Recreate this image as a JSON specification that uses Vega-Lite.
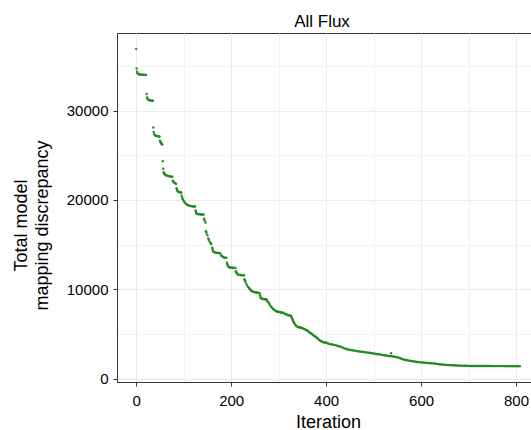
{
"$schema": "https://vega.github.io/schema/vega-lite/v6.json",
"width": 422, "height": 349,
"autosize": {"type": "none"},
"padding": {"left": 117, "top": 33, "right": 0, "bottom": 48},
"background": "white",
"title": {"text": "All Flux", "fontSize": 17, "font": "Liberation Sans", "fontWeight": "normal", "color": "black", "anchor": "middle", "frame": "group", "baseline": "bottom", "offset": 4, "dx": -6, "dy": 19},
"config": {
  "view": {"stroke": "#333333", "strokeWidth": 1},
  "axis": {"labelFont": "Liberation Sans", "titleFont": "Liberation Sans", "labelColor": "black", "titleColor": "black", "domainColor": "#333333", "tickColor": "#333333", "labelFontSize": 15, "titleFontSize": 18, "titleFontWeight": "normal", "tickSize": 4, "labelOverlap": false, "labelFlush": false}
},
"data": {"values": [
{"i":0,"v":36900},{"i":1,"v":34700},{"i":2,"v":34350},{"i":3,"v":34180},{"i":4,"v":34100},{"i":6,"v":34050},{"i":8,"v":34030},{"i":10,"v":34020},{"i":12,"v":34010},{"i":14,"v":34000},{"i":16,"v":34000},{"i":18,"v":33990},{"i":20,"v":33990},{"i":21,"v":33990},
{"i":22,"v":31850},{"i":23,"v":31450},{"i":24,"v":31300},{"i":26,"v":31200},{"i":28,"v":31160},{"i":30,"v":31130},{"i":32,"v":31110},{"i":34,"v":31100},{"i":35,"v":31100},
{"i":36,"v":28100},{"i":37,"v":27600},{"i":38,"v":27350},{"i":40,"v":27220},{"i":42,"v":27170},{"i":44,"v":27140},{"i":46,"v":27120},{"i":48,"v":27100},{"i":49,"v":27100},
{"i":50,"v":26620},{"i":51,"v":26500},{"i":52,"v":26400},{"i":53,"v":26300},{"i":54,"v":26250},{"i":55,"v":26200},
{"i":56,"v":24340},{"i":57,"v":23480},{"i":58,"v":23100},{"i":59,"v":22950},{"i":60,"v":22880},{"i":62,"v":22800},{"i":64,"v":22740},{"i":66,"v":22700},{"i":68,"v":22670},{"i":70,"v":22640},{"i":72,"v":22620},{"i":74,"v":22610},{"i":76,"v":22600},
{"i":77,"v":22150},{"i":78,"v":22060},{"i":80,"v":21950},{"i":82,"v":21860},{"i":84,"v":21800},
{"i":85,"v":21300},{"i":86,"v":21150},{"i":87,"v":21000},{"i":88,"v":20950},{"i":90,"v":20900},{"i":92,"v":20870},{"i":94,"v":20840},{"i":95,"v":20830},
{"i":96,"v":20460},{"i":97,"v":20250},{"i":98,"v":20090},{"i":100,"v":19900},{"i":102,"v":19750},{"i":104,"v":19620},{"i":106,"v":19520},{"i":108,"v":19450},{"i":110,"v":19400},{"i":112,"v":19360},{"i":114,"v":19330},{"i":116,"v":19310},{"i":118,"v":19290},{"i":120,"v":19280},{"i":122,"v":19270},{"i":124,"v":19260},
{"i":125,"v":18810},{"i":126,"v":18650},{"i":127,"v":18520},{"i":128,"v":18440},{"i":130,"v":18420},{"i":132,"v":18400},{"i":134,"v":18390},{"i":136,"v":18380},{"i":138,"v":18380},{"i":140,"v":18370},{"i":142,"v":18370},
{"i":143,"v":17900},{"i":144,"v":17700},{"i":146,"v":17480},{"i":147,"v":16500},{"i":148,"v":16300},{"i":150,"v":16060},{"i":152,"v":15700},{"i":153,"v":15530},{"i":155,"v":15300},{"i":157,"v":15150},{"i":158,"v":15080},{"i":160,"v":14650},{"i":161,"v":14490},{"i":162,"v":14300},{"i":163,"v":14190},{"i":165,"v":14150},{"i":167,"v":14120},{"i":169,"v":14100},{"i":171,"v":14080},{"i":173,"v":14060},{"i":175,"v":14050},{"i":177,"v":14040},
{"i":179,"v":13800},{"i":180,"v":13740},{"i":182,"v":13650},{"i":184,"v":13580},{"i":186,"v":13550},{"i":188,"v":13530},{"i":190,"v":13520},
{"i":191,"v":12990},{"i":192,"v":12800},{"i":193,"v":12650},{"i":194,"v":12540},{"i":196,"v":12480},{"i":198,"v":12450},{"i":200,"v":12430},{"i":202,"v":12420},{"i":204,"v":12410},{"i":206,"v":12400},{"i":208,"v":12400},{"i":209,"v":12400},
{"i":210,"v":12030},{"i":211,"v":11900},{"i":212,"v":11800},{"i":214,"v":11650},{"i":216,"v":11620},{"i":218,"v":11610},{"i":220,"v":11600},{"i":222,"v":11590},{"i":224,"v":11590},{"i":226,"v":11580},{"i":227,"v":11580},
{"i":228,"v":11130},{"i":229,"v":11000},{"i":230,"v":10850},{"i":232,"v":10600},{"i":234,"v":10400},{"i":236,"v":10250},{"i":238,"v":10120},{"i":239,"v":10080},{"i":240,"v":10000},{"i":242,"v":9850},{"i":244,"v":9790},{"i":246,"v":9750},{"i":248,"v":9710},{"i":250,"v":9680},{"i":252,"v":9660},{"i":254,"v":9640},{"i":256,"v":9630},{"i":258,"v":9600},{"i":260,"v":9560},
{"i":261,"v":9300},{"i":262,"v":9120},{"i":263,"v":9000},{"i":265,"v":8960},{"i":267,"v":8930},{"i":269,"v":8910},{"i":271,"v":8900},{"i":273,"v":8890},{"i":274,"v":8890},
{"i":275,"v":8750},{"i":277,"v":8620},{"i":279,"v":8500},{"i":281,"v":8330},{"i":283,"v":8150},{"i":285,"v":8000},{"i":287,"v":7900},{"i":289,"v":7780},{"i":291,"v":7690},{"i":293,"v":7620},{"i":295,"v":7560},{"i":297,"v":7520},{"i":299,"v":7490},{"i":301,"v":7460},{"i":303,"v":7440},{"i":305,"v":7420},{"i":307,"v":7400},{"i":309,"v":7390},{"i":311,"v":7320},{"i":313,"v":7270},{"i":315,"v":7230},{"i":317,"v":7190},{"i":319,"v":7140},{"i":321,"v":7100},{"i":323,"v":7070},{"i":325,"v":7040},{"i":326,"v":7020},
{"i":327,"v":6900},{"i":328,"v":6800},{"i":329,"v":6680},{"i":330,"v":6570},{"i":331,"v":6420},{"i":332,"v":6300},{"i":333,"v":6200},{"i":335,"v":6050},{"i":337,"v":5900},{"i":339,"v":5830},{"i":341,"v":5790},{"i":343,"v":5760},{"i":345,"v":5730},{"i":347,"v":5710},{"i":349,"v":5670},{"i":351,"v":5620},{"i":353,"v":5580},{"i":355,"v":5530},{"i":357,"v":5480},{"i":359,"v":5430},{"i":361,"v":5380},{"i":363,"v":5290},{"i":365,"v":5200},{"i":367,"v":5120},{"i":369,"v":5050},{"i":371,"v":4950},{"i":373,"v":4870},{"i":375,"v":4800},{"i":377,"v":4730},{"i":379,"v":4650},{"i":381,"v":4560},{"i":383,"v":4470},{"i":385,"v":4350},{"i":387,"v":4280},{"i":389,"v":4220},{"i":391,"v":4170},{"i":393,"v":4120},{"i":395,"v":4090},{"i":397,"v":4060},{"i":399,"v":4040},{"i":401,"v":4020},
{"i":404,"v":3950},{"i":407,"v":3890},{"i":410,"v":3860},{"i":413,"v":3820},{"i":416,"v":3790},{"i":419,"v":3760},{"i":422,"v":3710},{"i":425,"v":3660},{"i":428,"v":3620},{"i":431,"v":3580},{"i":434,"v":3500},{"i":437,"v":3430},{"i":440,"v":3370},{"i":443,"v":3320},{"i":446,"v":3280},{"i":449,"v":3250},{"i":452,"v":3210},{"i":455,"v":3180},{"i":458,"v":3150},{"i":461,"v":3120},{"i":464,"v":3090},{"i":467,"v":3070},{"i":470,"v":3050},{"i":473,"v":3030},{"i":476,"v":3010},{"i":479,"v":2990},{"i":482,"v":2970},{"i":485,"v":2950},{"i":488,"v":2920},{"i":491,"v":2900},{"i":494,"v":2870},{"i":497,"v":2850},{"i":500,"v":2820},{"i":503,"v":2800},{"i":506,"v":2770},{"i":509,"v":2750},{"i":512,"v":2730},{"i":515,"v":2700},{"i":518,"v":2670},{"i":521,"v":2640},{"i":524,"v":2620},{"i":527,"v":2590},{"i":530,"v":2570},{"i":533,"v":2540},{"i":535,"v":2530},{"i":537,"v":2840},{"i":538,"v":2520},{"i":541,"v":2490},{"i":544,"v":2460},{"i":547,"v":2440},{"i":550,"v":2410},{"i":553,"v":2360},{"i":556,"v":2300},{"i":559,"v":2240},{"i":562,"v":2180},{"i":565,"v":2130},{"i":568,"v":2090},{"i":571,"v":2060},{"i":574,"v":2030},{"i":577,"v":2000},{"i":580,"v":1980},{"i":583,"v":1950},{"i":586,"v":1920},{"i":589,"v":1900},{"i":592,"v":1880},{"i":595,"v":1860},{"i":598,"v":1840},{"i":601,"v":1830},{"i":604,"v":1810},{"i":607,"v":1800},{"i":610,"v":1790},{"i":613,"v":1770},{"i":616,"v":1750},{"i":619,"v":1740},{"i":622,"v":1730},{"i":625,"v":1720},{"i":628,"v":1700},{"i":631,"v":1680},{"i":634,"v":1660},{"i":637,"v":1630},{"i":640,"v":1610},{"i":643,"v":1590},{"i":646,"v":1580},{"i":649,"v":1560},{"i":652,"v":1550},{"i":655,"v":1540},{"i":658,"v":1530},{"i":661,"v":1525},{"i":664,"v":1515},{"i":667,"v":1505},{"i":670,"v":1500},{"i":673,"v":1490},{"i":676,"v":1480},{"i":679,"v":1470},{"i":682,"v":1465},{"i":685,"v":1462},{"i":688,"v":1460},{"i":691,"v":1455},{"i":694,"v":1450},{"i":697,"v":1445},{"i":700,"v":1440},{"i":703,"v":1437},{"i":706,"v":1434},{"i":709,"v":1431},{"i":712,"v":1428},{"i":715,"v":1425},{"i":718,"v":1423},{"i":721,"v":1421},{"i":724,"v":1420},{"i":727,"v":1419},{"i":730,"v":1418},{"i":733,"v":1417},{"i":736,"v":1416},{"i":739,"v":1415},{"i":742,"v":1415},{"i":745,"v":1414},{"i":748,"v":1414},{"i":751,"v":1413},{"i":754,"v":1413},{"i":757,"v":1412},{"i":760,"v":1412},{"i":763,"v":1412},{"i":766,"v":1411},{"i":769,"v":1411},{"i":772,"v":1411},{"i":775,"v":1410},{"i":778,"v":1410},{"i":781,"v":1410},{"i":784,"v":1410},{"i":787,"v":1410},{"i":790,"v":1410},{"i":793,"v":1410},{"i":796,"v":1410},{"i":799,"v":1410},{"i":802,"v":1410},{"i":805,"v":1410},{"i":808,"v":1410}
]},
"mark": {"type": "point", "filled": true, "size": 6, "color": "#228B22", "opacity": 1},
"encoding": {
  "x": {"field": "i", "type": "quantitative",
        "scale": {"domain": [-40.4, 848.4], "nice": false, "zero": false},
        "axis": {"title": "Iteration", "values": [0,100,200,300,400,500,600,700,800], "format": "d",
                 "labelExpr": "datum.value % 200 === 0 ? datum.label : ''",
                 "tickOpacity": {"condition": {"test": "datum.value % 200 !== 0", "value": 0}, "value": 1},
                 "gridColor": {"condition": {"test": "datum.value % 200 !== 0", "value": "#F3F3F3"}, "value": "#EBEBEB"},
                 "labelPadding": 7, "titleY": 45, "titleBaseline": "alphabetic"}},
  "y": {"field": "v", "type": "quantitative",
        "scale": {"domain": [-365, 38675], "nice": false, "zero": false},
        "axis": {"title": ["Total model", "mapping discrepancy"], "values": [0,5000,10000,15000,20000,25000,30000,35000], "format": "d",
                 "labelExpr": "datum.value % 10000 === 0 ? datum.label : ''",
                 "tickOpacity": {"condition": {"test": "datum.value % 10000 !== 0", "value": 0}, "value": 1},
                 "gridColor": {"condition": {"test": "datum.value % 10000 !== 0", "value": "#F3F3F3"}, "value": "#EBEBEB"},
                 "labelPadding": 5, "titleAngle": -90, "titleX": -105, "titleY": 192, "titleAlign": "center", "titleBaseline": "top", "titleLineHeight": 21}}
}
}
